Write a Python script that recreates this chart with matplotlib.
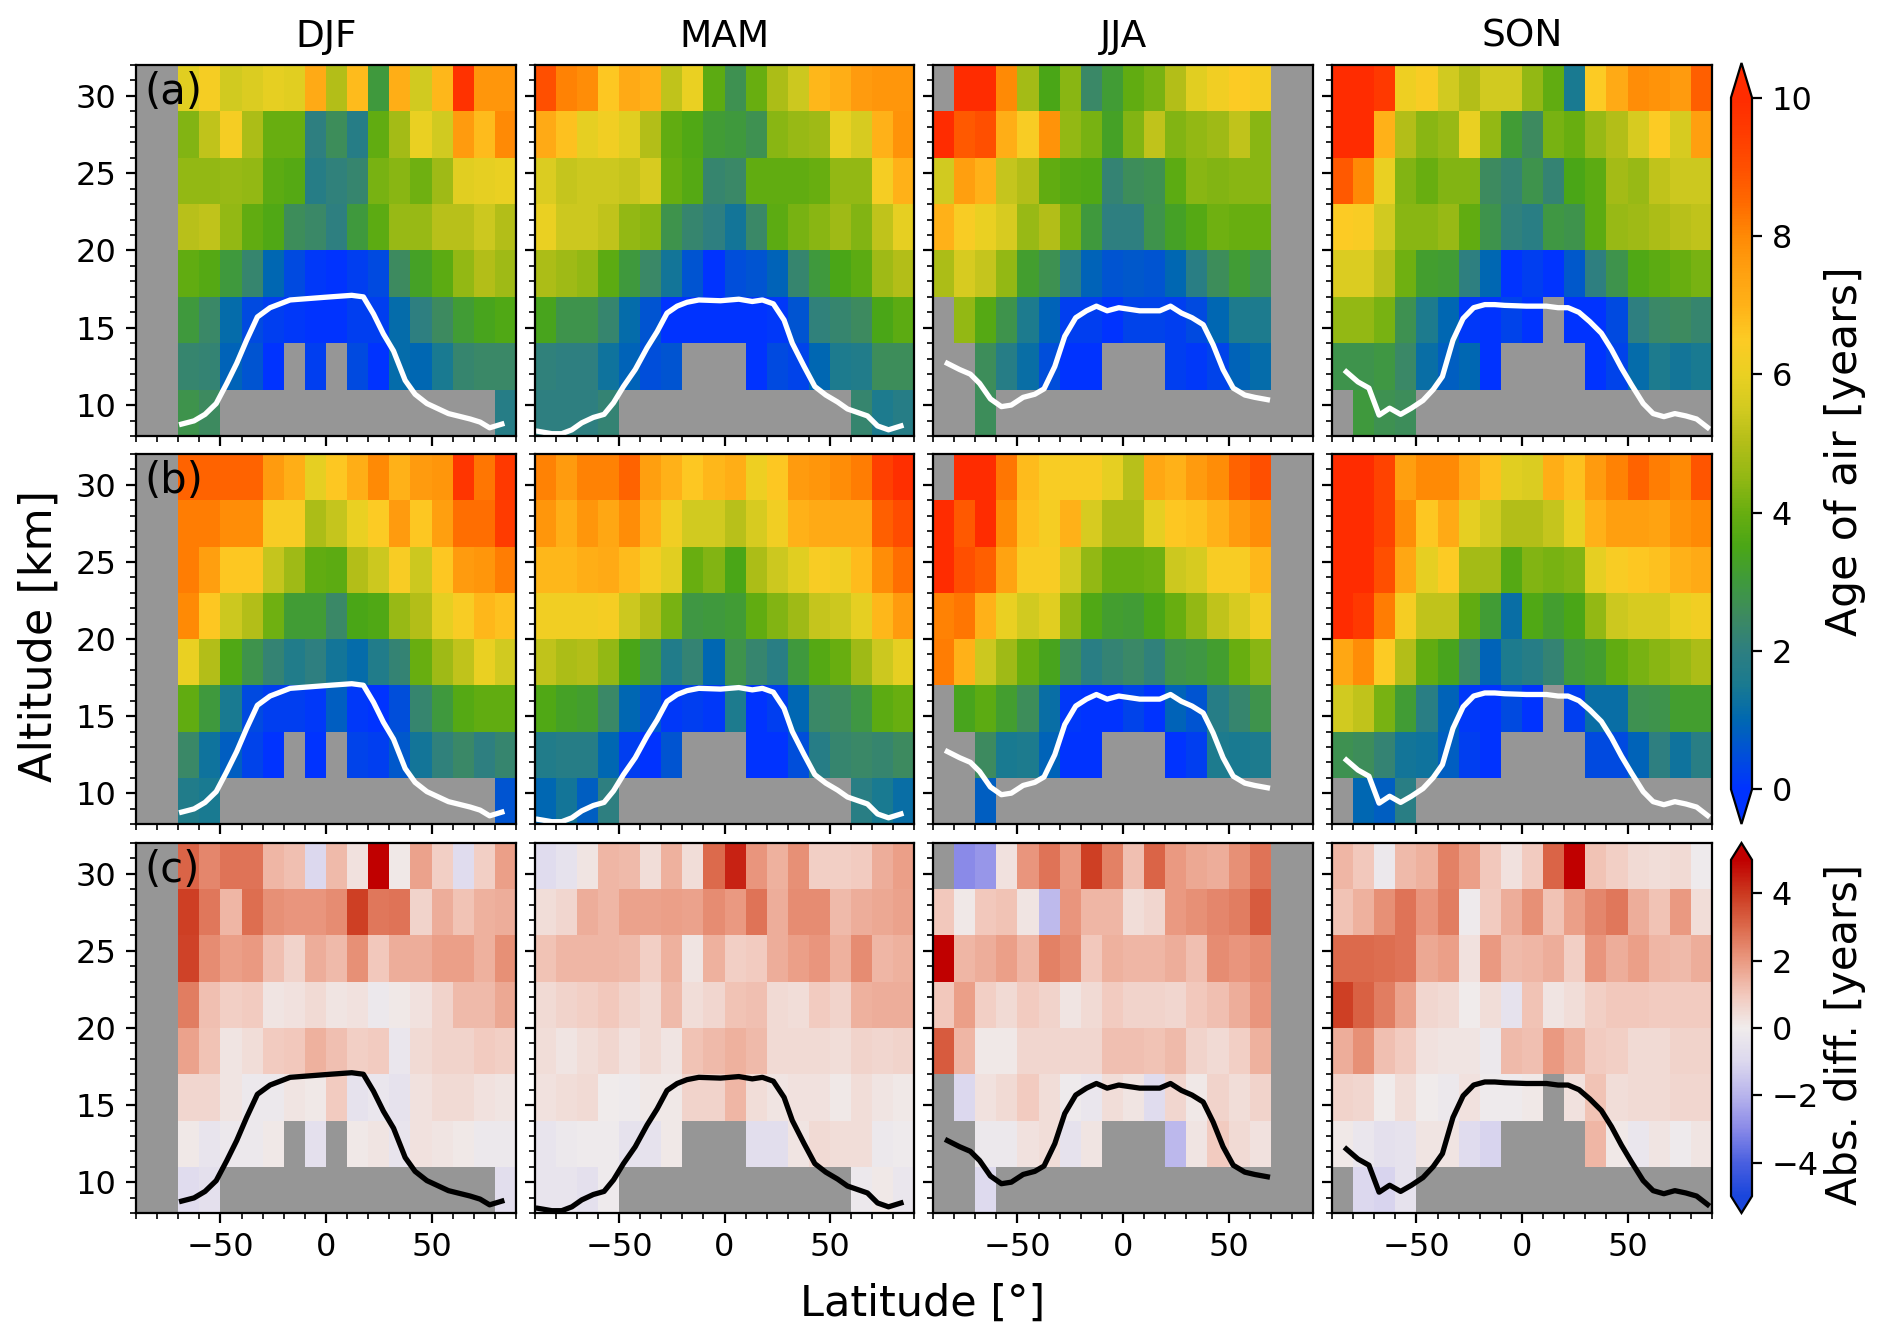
import numpy as np
import matplotlib
matplotlib.use('Agg')
import matplotlib.pyplot as plt
from matplotlib.colors import LinearSegmentedColormap, Normalize

n = np.nan

lat_edges = np.arange(-90, 91, 10)
alt_edges = np.array([32, 29, 26, 23, 20, 17, 14, 11, 8])
seasons = ['DJF', 'MAM', 'JJA', 'SON']
panel_labels = ['(a)', '(b)', '(c)']

# rows go from 29-32 km down to 8-11 km
age_a_djf = [
    [n, n, 5.8, 6.3, 5.5, 5.7, 5.9, 5.8, 7.2, 5.0, 6.8, 3.0, 7.1, 5.5, 6.9, 9.8, 7.7, 7.7],
    [n, n, 4.3, 5.2, 6.3, 4.9, 4.0, 4.0, 2.0, 2.6, 1.8, 3.9, 4.8, 6.0, 5.5, 7.6, 6.8, 8.0],
    [n, n, 4.5, 4.5, 4.6, 4.5, 3.8, 3.7, 1.8, 2.1, 2.3, 4.2, 4.4, 4.1, 4.7, 5.8, 5.9, 6.0],
    [n, n, 5.1, 5.2, 4.5, 3.9, 3.6, 2.6, 2.4, 2.0, 3.0, 3.8, 4.6, 4.6, 5.1, 5.1, 5.4, 5.0],
    [n, n, 3.9, 3.7, 3.0, 2.3, 1.0, 0.4, 0.1, 0.0, 0.2, 0.4, 2.5, 3.3, 3.8, 4.5, 5.0, 4.7],
    [n, n, 3.0, 2.4, 1.1, 0.4, 0.2, 0.1, 0.0, 0.0, 0.2, 0.2, 1.1, 2.0, 2.5, 3.1, 3.4, 3.6],
    [n, n, 2.3, 2.2, 0.9, 0.6, 0.0, n, 0.2, n, 0.4, 0.0, 1.1, 1.0, 1.5, 2.3, 2.4, 2.4],
    [n, n, 2.8, 2.5] + [n] * 13 + [1.8],
]
age_a_mam = [
    [9.0, 8.1, 7.9, 6.6, 7.2, 7.0, 5.2, 6.0, 3.8, 2.7, 4.0, 4.9, 5.4, 6.9, 7.1, 7.6, 7.7, 7.7],
    [7.2, 6.7, 5.9, 6.2, 5.8, 5.0, 3.9, 3.6, 3.1, 3.0, 2.7, 4.4, 4.6, 4.7, 6.0, 5.6, 7.0, 7.8],
    [5.7, 5.3, 5.4, 5.4, 5.3, 5.6, 4.0, 3.7, 2.3, 2.4, 3.9, 3.9, 3.9, 4.0, 4.5, 4.5, 6.3, 7.0],
    [6.0, 5.4, 5.4, 5.2, 4.5, 4.4, 2.8, 2.3, 2.0, 1.4, 2.4, 3.8, 4.2, 4.4, 4.7, 4.3, 5.2, 5.9],
    [4.9, 4.7, 4.5, 3.8, 3.0, 2.4, 1.4, 0.6, 0.0, 0.5, 0.6, 0.9, 2.3, 3.0, 3.5, 3.8, 4.7, 5.0],
    [3.4, 2.8, 2.8, 2.3, 1.1, 0.6, 0.0, 0.0, 0.0, 0.0, 0.0, 0.1, 0.6, 2.1, 2.3, 2.5, 3.5, 3.8],
    [2.1, 2.0, 2.0, 1.3, 0.9, 0.5, 0.6, n, n, n, 0.0, 0.4, 0.3, 1.0, 1.6, 1.7, 2.6, 2.6],
    [2.0, 2.0, 2.0, 2.2] + [n] * 11 + [2.3, 1.6, 1.8],
]
age_a_jja = [
    [n, 10, 10, 8.0, 4.8, 3.5, 4.4, 2.4, 3.1, 3.9, 4.2, 5.0, 5.8, 6.2, 6.5, 6.3, n, n],
    [10, 8.8, 9.0, 7.1, 6.4, 7.8, 4.5, 4.2, 3.3, 4.3, 5.2, 4.3, 4.5, 4.7, 5.2, 4.4, n, n],
    [5.5, 7.5, 7.0, 5.3, 5.0, 3.9, 3.7, 3.6, 2.2, 2.6, 2.7, 3.8, 4.4, 4.3, 4.4, 4.4, n, n],
    [7.0, 6.4, 6.0, 5.6, 4.6, 5.0, 4.2, 3.0, 2.0, 2.0, 2.8, 3.3, 3.7, 4.1, 4.0, 4.0, n, n],
    [4.9, 5.6, 5.3, 4.5, 3.2, 2.7, 1.9, 0.9, 0.6, 0.7, 0.6, 1.0, 1.9, 2.6, 3.1, 2.7, n, n],
    [n, 4.5, 3.7, 2.8, 1.6, 0.9, 0.2, 0.2, 0.0, 0.3, 0.3, 0.2, 0.4, 1.0, 1.6, 1.6, n, n],
    [n, n, 2.6, 1.8, 1.2, 0.5, 0.0, 0.0, n, n, n, 0.2, 0.1, 0.3, 0.9, 1.1, n, n],
    [n, n, 2.6] + [n] * 15,
]
age_a_son = [
    [10, 10, 9.6, 6.1, 6.4, 5.5, 5.0, 5.5, 5.5, 4.5, 3.9, 1.5, 6.5, 7.2, 7.9, 7.8, 7.6, 8.7],
    [10, 10, 7.0, 5.0, 4.4, 4.6, 6.0, 4.5, 3.1, 2.5, 4.2, 4.0, 4.6, 5.0, 5.6, 6.5, 5.6, 7.5],
    [8.8, 8.0, 6.0, 4.3, 4.0, 4.3, 4.3, 2.5, 2.2, 2.8, 2.2, 3.5, 3.8, 4.8, 4.6, 5.2, 5.4, 5.4],
    [6.5, 6.4, 5.5, 4.4, 4.4, 4.6, 3.9, 2.8, 2.1, 1.9, 2.9, 2.8, 3.8, 4.6, 4.7, 4.9, 5.1, 5.2],
    [5.7, 5.7, 5.1, 4.1, 3.2, 3.1, 2.0, 1.0, 0.0, 0.2, 0.0, 0.7, 2.0, 2.8, 3.6, 3.8, 4.0, 4.2],
    [4.5, 4.5, 4.2, 2.7, 1.6, 1.0, 0.1, 0.0, 0.3, 0.0, n, 0.0, 0.0, 0.4, 2.0, 2.4, 2.5, 2.3],
    [2.8, 2.8, 2.9, 2.4, 1.2, 0.8, 1.0, 0.0, n, n, n, n, 0.0, 0.3, 1.1, 1.6, 1.4, 1.5],
    [n, 3.0, 2.7, 2.6] + [n] * 14,
]

age_b_djf = [
    [n, n, 8.6, 8.6, 8.6, 8.6, 7.6, 7.1, 5.9, 6.6, 7.1, 8.0, 7.0, 7.6, 7.7, 9.7, 8.3, 9.6],
    [n, n, 8.2, 8.2, 7.9, 7.9, 6.4, 6.4, 4.9, 5.3, 6.0, 6.5, 7.6, 6.6, 7.5, 8.4, 8.4, 9.5],
    [n, n, 8.2, 7.5, 6.6, 6.6, 5.3, 4.7, 3.9, 3.8, 5.0, 5.4, 6.4, 5.4, 6.6, 7.6, 7.7, 8.2],
    [n, n, 8.0, 6.6, 5.4, 5.0, 4.1, 3.1, 3.1, 2.4, 3.5, 3.6, 4.6, 5.0, 5.9, 6.4, 6.9, 6.7],
    [n, n, 6.0, 5.0, 3.6, 2.8, 2.2, 1.7, 2.0, 1.4, 1.1, 1.7, 2.2, 4.0, 4.7, 5.2, 6.0, 5.5],
    [n, n, 3.9, 3.0, 1.5, 0.4, 0.2, 0.2, 0.1, 0.8, 0.1, 0.0, 0.5, 2.3, 3.0, 3.7, 3.9, 3.9],
    [n, n, 2.4, 1.3, 0.8, 0.3, 0.0, n, 0.0, n, 0.3, 0.2, 0.7, 1.4, 2.1, 2.4, 2.0, 2.3],
    [n, n, 1.7, 1.5] + [n] * 13 + [0.6],
]
age_b_mam = [
    [8.1, 7.6, 8.1, 8.1, 8.6, 7.5, 7.0, 6.6, 6.9, 7.1, 6.1, 6.6, 7.6, 7.7, 7.9, 8.2, 9.4, 9.9],
    [7.7, 7.1, 7.7, 7.3, 7.9, 7.0, 6.2, 5.5, 5.5, 5.1, 5.6, 6.2, 7.0, 7.2, 7.2, 7.2, 8.7, 9.1],
    [6.9, 6.9, 7.1, 7.2, 6.8, 6.3, 5.8, 4.0, 4.3, 3.5, 4.9, 5.4, 5.8, 6.4, 6.2, 6.8, 7.9, 8.4],
    [6.2, 6.2, 6.2, 6.3, 5.4, 5.0, 4.2, 2.9, 3.0, 3.1, 3.9, 4.3, 4.7, 5.3, 5.4, 5.9, 6.9, 7.6],
    [5.2, 4.9, 5.0, 4.5, 3.5, 2.9, 1.7, 2.2, 1.0, 2.8, 2.3, 1.9, 3.0, 3.7, 4.0, 4.7, 5.4, 5.9],
    [3.6, 3.3, 3.2, 2.4, 1.0, 0.7, 0.1, 0.2, 0.1, 1.6, 0.0, 0.2, 1.0, 2.4, 2.5, 2.9, 3.8, 4.0],
    [1.7, 1.8, 1.8, 1.0, 0.2, 0.0, 0.6, n, n, n, 0.0, 0.0, 0.5, 1.8, 2.3, 2.4, 2.3, 2.5],
    [1.0, 1.4, 0.8, 2.0] + [n] * 11 + [1.9, 1.5, 1.2],
]
age_b_jja = [
    [n, 10, 10, 8.3, 6.8, 6.4, 6.4, 6.4, 5.9, 5.1, 7.3, 7.0, 7.6, 7.9, 8.6, 9.0, n, n],
    [10, 8.8, 10, 8.0, 6.7, 6.3, 7.0, 5.6, 4.9, 4.9, 5.9, 6.6, 6.7, 7.0, 7.6, 7.9, n, n],
    [10, 9.0, 8.7, 7.4, 6.4, 6.4, 5.5, 4.5, 4.0, 4.0, 4.1, 5.4, 5.6, 6.4, 6.4, 6.9, n, n],
    [8.1, 8.3, 7.0, 6.0, 5.5, 5.8, 4.5, 3.6, 3.2, 3.1, 3.5, 4.0, 4.5, 5.2, 5.6, 6.2, n, n],
    [8.2, 7.0, 5.4, 4.7, 4.0, 3.4, 2.6, 1.9, 2.2, 2.4, 2.1, 2.8, 2.9, 3.2, 4.0, 4.4, n, n],
    [n, 3.4, 3.8, 3.2, 2.6, 1.2, 0.1, 0.0, 0.0, 0.3, 0.0, 0.9, 0.6, 1.8, 2.3, 2.8, n, n],
    [n, n, 2.5, 1.5, 1.6, 0.9, 0.0, 0.0, n, n, n, 0.0, 0.2, 1.6, 1.5, 1.6, n, n],
    [n, n, 0.8] + [n] * 15,
]
age_b_son = [
    [10, 10, 9.3, 7.5, 8.0, 8.0, 7.2, 6.7, 5.8, 5.7, 7.1, 6.7, 7.6, 8.1, 8.6, 8.2, 8.0, 8.9],
    [10, 10, 9.3, 7.9, 6.6, 7.2, 5.9, 5.5, 5.0, 5.0, 5.3, 6.0, 7.0, 7.5, 7.5, 7.4, 7.8, 8.0],
    [10, 10, 9.0, 7.3, 5.9, 6.5, 4.8, 4.8, 3.7, 4.3, 4.2, 4.3, 5.9, 6.4, 6.6, 6.7, 7.0, 7.2],
    [10, 9.6, 8.2, 6.3, 5.2, 5.2, 3.9, 3.1, 1.2, 3.6, 3.2, 3.5, 4.5, 5.4, 5.6, 5.6, 6.0, 6.2],
    [7.3, 7.9, 6.5, 5.0, 3.9, 3.4, 2.4, 0.9, 1.6, 1.8, 2.2, 3.0, 3.2, 3.9, 4.2, 4.4, 4.6, 4.9],
    [5.5, 5.2, 4.2, 3.1, 1.9, 0.9, 0.1, 0.0, 0.4, 0.0, n, 0.2, 1.2, 1.2, 2.7, 2.8, 3.2, 3.2],
    [2.7, 2.6, 2.2, 1.4, 1.3, 0.8, 0.2, 0.0, n, n, n, n, 0.4, 0.4, 0.9, 2.0, 1.3, 1.9],
    [n, 1.0, 0.8, 1.9] + [n] * 14,
]

diff_djf = [
    [n, n, 3.1, 2.4, 2.8, 2.8, 1.4, 1.2, -1.0, 1.3, 0.3, 5.0, 0.1, 1.8, 0.8, -0.8, 0.8, 1.9],
    [n, n, 3.9, 2.7, 1.4, 2.9, 2.2, 2.1, 2.1, 2.3, 3.9, 2.7, 2.8, 0.7, 1.6, 1.1, 1.5, 1.6],
    [n, n, 3.8, 2.3, 1.9, 2.0, 1.2, 0.7, 1.6, 1.3, 2.2, 1.0, 1.6, 1.6, 1.9, 1.9, 1.5, 2.2],
    [n, n, 2.6, 1.2, 0.8, 0.9, 0.2, 0.3, 0.5, 0.2, 0.3, -0.2, 0.1, 0.3, 0.7, 1.3, 1.3, 1.7],
    [n, n, 1.8, 1.1, 0.2, 0.4, 0.9, 1.0, 1.5, 1.2, 0.8, 0.9, -0.3, 0.5, 0.7, 0.7, 0.9, 0.8],
    [n, n, 0.6, 0.6, 0.2, -0.2, -0.2, 0.2, 0.1, 0.9, -0.5, -0.3, -0.5, 0.3, 0.5, 0.5, 0.3, 0.2],
    [n, n, 0.1, -0.4, -0.2, -0.2, 0.1, n, -0.6, n, 0.1, 0.2, -0.4, 0.3, 0.2, 0.1, -0.2, -0.2],
    [n, n, -0.8, -0.6] + [n] * 13 + [-0.7],
]
diff_mam = [
    [-0.8, -0.5, 0.2, 1.4, 1.3, 0.4, 1.5, 0.4, 3.0, 4.4, 2.1, 1.5, 2.2, 0.8, 0.8, 0.9, 1.6, 1.9],
    [0.4, 0.6, 1.6, 1.4, 1.8, 1.8, 1.9, 1.8, 2.3, 2.0, 2.8, 1.6, 2.3, 2.3, 1.3, 1.6, 1.7, 1.8],
    [1.1, 1.4, 1.4, 1.4, 1.3, 0.8, 1.5, 0.2, 1.5, 0.8, 0.9, 1.6, 1.9, 2.1, 1.5, 2.3, 1.4, 1.5],
    [0.5, 0.7, 0.8, 1.0, 0.7, 0.5, 1.3, 0.4, 0.6, 1.1, 1.2, 0.5, 0.4, 0.9, 0.7, 1.5, 1.6, 1.6],
    [0.4, 0.2, 0.4, 0.6, 0.3, 0.5, 0.2, 1.1, 1.3, 1.5, 1.3, 0.5, 0.5, 0.5, 0.4, 0.7, 0.6, 0.7],
    [0.3, 0.4, 0.5, 0.0, -0.1, 0.1, 0.1, 0.7, 0.7, 1.4, 0.4, 0.2, 0.3, 0.3, 0.1, 0.4, 0.2, 0.1],
    [-0.4, -0.2, -0.1, -0.1, -0.5, -0.5, 0.1, n, n, n, -0.7, -0.7, 0.2, 0.5, 0.4, 0.4, -0.2, -0.1],
    [-0.4, -0.4, -0.6, -0.1] + [n] * 11 + [-0.2, 0.1, -0.3],
]
diff_jja = [
    [n, -3.0, -2.7, 0.3, 2.1, 2.8, 2.0, 3.9, 2.5, 1.2, 3.1, 2.0, 1.7, 1.6, 2.2, 2.8, n, n],
    [1.0, 0.1, 1.0, 1.1, 0.2, -1.8, 2.1, 1.4, 1.4, 0.4, 0.6, 2.0, 2.2, 2.4, 2.6, 3.3, n, n],
    [5.0, 1.4, 1.6, 1.9, 1.4, 2.5, 2.3, 1.0, 1.5, 1.4, 1.4, 1.6, 1.2, 2.3, 2.1, 2.3, n, n],
    [1.0, 1.9, 0.8, 0.5, 0.9, 0.7, 0.2, 0.5, 0.9, 0.7, 0.7, 0.6, 1.0, 1.2, 1.6, 2.1, n, n],
    [3.3, 1.4, 0.1, 0.1, 0.6, 0.6, 0.6, 0.6, 1.2, 1.2, 1.1, 1.3, 0.7, 0.5, 0.8, 1.5, n, n],
    [n, -1.0, 0.3, 0.5, 0.9, 0.4, -0.1, -0.3, 0.4, 0.2, -0.8, 0.6, 0.1, 0.7, 0.4, 0.7, n, n],
    [n, n, -0.2, -0.2, 0.3, 0.4, -0.5, 0.2, n, n, n, -1.9, 0.2, 0.9, 0.5, 0.3, n, n],
    [n, n, -0.9] + [n] * 15,
]
diff_son = [
    [1.4, 1.0, -0.2, 1.3, 1.5, 2.5, 1.9, 1.0, 0.3, 0.9, 3.1, 5.0, 1.1, 0.8, 0.5, 0.4, 0.5, -0.1],
    [1.1, 1.5, 2.2, 2.8, 2.1, 2.6, -0.1, 0.9, 1.6, 2.2, 1.1, 1.9, 2.4, 2.7, 1.6, 1.1, 2.0, 0.4],
    [3.0, 3.0, 2.9, 2.8, 1.7, 1.9, 0.3, 2.0, 1.3, 1.4, 1.6, 0.8, 2.1, 1.6, 1.9, 1.4, 1.3, 1.6],
    [3.9, 3.2, 2.6, 1.8, 0.6, 0.5, 0.0, 0.4, -0.5, 1.1, 0.2, 0.4, 0.8, 1.0, 1.0, 0.9, 0.9, 0.9],
    [1.6, 2.2, 1.2, 0.9, 0.3, 0.2, 0.2, -0.2, 1.3, 1.2, 2.0, 1.5, 0.9, 0.8, 0.5, 0.5, 0.7, 0.7],
    [0.7, 0.6, 0.0, 0.4, 0.0, -0.2, 0.3, -0.1, -0.1, 0.1, n, 0.3, 1.1, 0.4, 0.5, 0.5, 0.6, 0.6],
    [0.1, -0.3, -0.6, -0.5, 0.2, 0.2, -0.8, -1.1, n, n, n, n, 1.4, 0.1, -0.3, 0.2, -0.1, 0.2],
    [n, -1.0, -1.1, -0.5] + [n] * 14,
]

# tropopause
trop_lat_djf = [-68.4, -62.5, -57.3, -52, -47, -42.3, -37.6, -32.5, -26.5, -17, -7.5, 2, 12.2, 17.7,
                22.5, 27.2, 32, 37.5, 42.2, 47.8, 58, 68.3, 73, 77.5, 83.3]
trop_alt_djf = [8.77, 8.98, 9.4, 10.1, 11.4, 12.7, 14.2, 15.7, 16.3, 16.8, 16.9, 17.0, 17.1, 17.0,
                15.9, 14.6, 13.5, 11.6, 10.7, 10.1, 9.45, 9.1, 8.9, 8.53, 8.77]
trop_lat_mam = [-88.4, -82, -77.3, -72.5, -67.8, -62.3, -57.2, -52.7, -48, -42.4, -36.8, -32, -27.3,
                -22.5, -17.8, -12.2, -1.9, 6.8, 13.2, 18, 23.2, 28.3, 32.2, 37.8, 42.9, 48.1, 53.7,
                58.4, 67.9, 72.7, 77.9, 83.8]
trop_alt_mam = [8.3, 8.15, 8.15, 8.4, 8.85, 9.2, 9.4, 10.15, 11.2, 12.3, 13.7, 14.75, 15.95,
                16.4, 16.65, 16.8, 16.75, 16.85, 16.7, 16.8, 16.55, 15.5, 14, 12.5, 11.2, 10.65, 10.2,
                9.75, 9.3, 8.65, 8.4, 8.65]
trop_lat_jja = [-83.2, -77.4, -72.3, -67.9, -62.8, -57.6, -52.9, -47.3, -41.8, -37.4, -32.3, -27.6,
                -22.4, -17.3, -12.6, -7.5, -2, 7.9, 17.4, 22.5, 27.7, 32.7, 38, 42.7, 47.4, 52.2,
                57.7, 62.4, 68.4]
trop_alt_jja = [12.7, 12.3, 12.0, 11.4, 10.4, 9.9, 10.0, 10.5, 10.7, 11.05, 12.5, 14.45,
                15.65, 16.1, 16.4, 16.1, 16.3, 16.1, 16.1, 16.4, 15.95, 15.65, 15.2, 13.9, 12.3, 11.1,
                10.65, 10.5, 10.35]
trop_lat_son = [-83.2, -77.7, -72.5, -67.7, -62.7, -57.5, -52.4, -46.9, -42.1, -37.7, -32.7, -27.9,
                -22.9, -17.6, -12.9, -8.2, 2.1, 11.6, 17.1, 21.8, 27, 32.1, 37.6, 42.4, 47.1, 51.9,
                57.4, 62.1, 67.2, 72.4, 77.6, 82.7, 87.9]
trop_alt_son = [12.15, 11.5, 11.1, 9.35, 9.8, 9.4, 9.8, 10.3, 11, 11.85, 14.2, 15.6,
                16.3, 16.5, 16.5, 16.45, 16.4, 16.4, 16.3, 16.3, 16, 15.4, 14.65, 13.6, 12.4, 11.3,
                10.1, 9.45, 9.25, 9.45, 9.3, 9.1, 8.55]

age_rows = [[age_a_djf, age_a_mam, age_a_jja, age_a_son],
            [age_b_djf, age_b_mam, age_b_jja, age_b_son]]
diff_row = [diff_djf, diff_mam, diff_jja, diff_son]
trop_lat = [trop_lat_djf, trop_lat_mam, trop_lat_jja, trop_lat_son]
trop_alt = [trop_alt_djf, trop_alt_mam, trop_alt_jja, trop_alt_son]

age_colors = ['#0033ff', '#0050d8', '#0068b0', '#1a7a90', '#2e7f80', '#3d8a60', '#3f9a3c', '#4aa616',
              '#68ae10', '#92b814', '#b2be18', '#d2ca20', '#ead022', '#fccb24', '#ffb218', '#ffa010',
              '#ff8a05', '#ff6a00', '#ff5000', '#ff3c00', '#ff2c00']
age_cmap = LinearSegmentedColormap.from_list('age', age_colors)
diff_colors = ['#1a46dc', '#4a60e0', '#8a8ae8', '#b8b4ec', '#dcd8ee', '#f0ecec',
               '#f2c8bc', '#ea9a82', '#dc6a4c', '#cc3a20', '#c00000']
diff_cmap = LinearSegmentedColormap.from_list('diff', diff_colors)
age_norm = Normalize(0, 10)
diff_norm = Normalize(-5, 5)

W, H = 1892, 1344
fig = plt.figure(figsize=(W / 200, H / 200), dpi=200)


def px_axes(left, top, right, bottom):
    return fig.add_axes([left / W, 1 - bottom / H, (right - left) / W, (bottom - top) / H])


col_px = [(136, 516), (535, 914), (933, 1313), (1332, 1712)]
row_px = [(65, 436), (454, 824), (843, 1213)]

for r in range(3):
    for c in range(4):
        ax = px_axes(col_px[c][0], row_px[r][0], col_px[c][1], row_px[r][1])
        ax.set_facecolor('#969696')
        if r < 2:
            vals = np.array(age_rows[r][c], dtype=float)
            cmap, norm, line_col = age_cmap, age_norm, 'white'
        else:
            vals = np.array(diff_row[c], dtype=float)
            cmap, norm, line_col = diff_cmap, diff_norm, 'black'
        mesh = ax.pcolormesh(lat_edges, alt_edges, vals, cmap=cmap, norm=norm)
        ax.plot(trop_lat[c], trop_alt[c], color=line_col, lw=1.9)
        ax.set_xlim(-90, 90)
        ax.set_ylim(8, 32)
        ax.set_xticks([-50, 0, 50])
        ax.set_xticks(lat_edges, minor=True)
        ax.set_yticks([10, 15, 20, 25, 30])
        ax.set_yticks(np.arange(8, 33), minor=True)
        ax.tick_params(labelsize=11.5)
        if r < 2:
            ax.set_xticklabels([])
        if c > 0:
            ax.set_yticklabels([])
        if r == 0:
            ax.set_title(seasons[c], fontsize=13.5, pad=6.5)
        if c == 0:
            ax.text(-86, 30.25, panel_labels[r], fontsize=15, va='center', ha='left')

cax1 = px_axes(1731, 63, 1752, 824)
cb1 = fig.colorbar(plt.cm.ScalarMappable(norm=age_norm, cmap=age_cmap), cax=cax1, extend='both')
cb1.set_ticks([0, 2, 4, 6, 8, 10])
cb1.ax.tick_params(labelsize=11.5)

cax2 = px_axes(1731, 843, 1752, 1213)
cb2 = fig.colorbar(plt.cm.ScalarMappable(norm=diff_norm, cmap=diff_cmap), cax=cax2, extend='both')
cb2.set_ticks([-4, -2, 0, 2, 4])
cb2.ax.tick_params(labelsize=11.5)

fig.text(1845 / W, 1 - 451 / H, 'Age of air [years]', rotation=90, fontsize=15.3, ha='center', va='center')
fig.text(1845 / W, 1 - 1034 / H, 'Abs. diff. [years]', rotation=90, fontsize=15, ha='center', va='center')
fig.text(39 / W, 1 - 636 / H, 'Altitude [km]', rotation=90, fontsize=16, ha='center', va='center')
fig.text(923 / W, 1 - 1304 / H, 'Latitude [°]', fontsize=15.5, ha='center', va='center')

fig.savefig('out.png', dpi=200)
